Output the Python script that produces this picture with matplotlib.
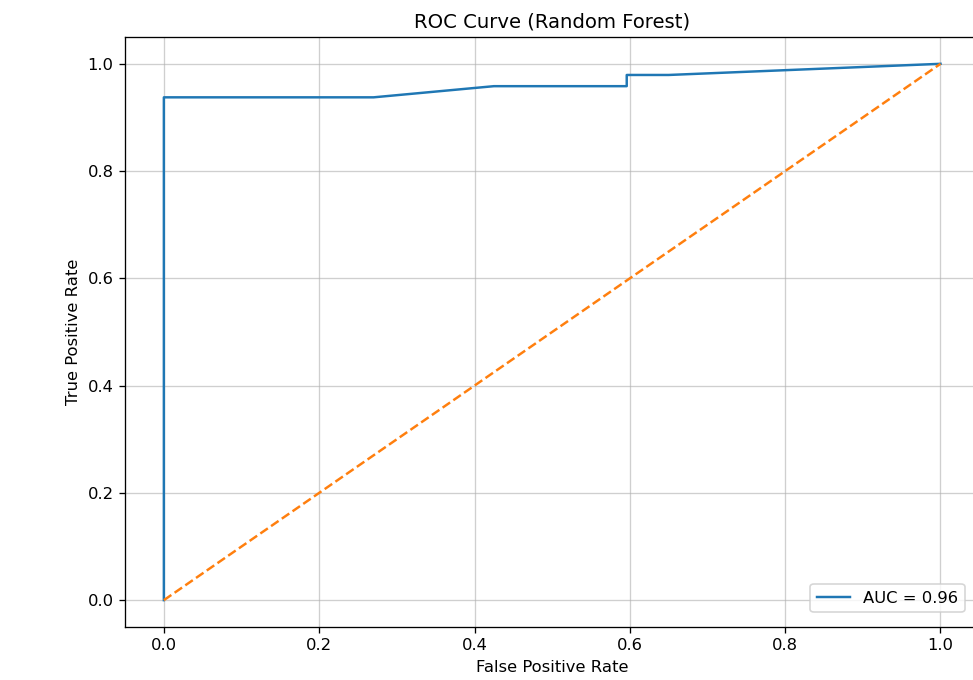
import matplotlib.pyplot as plt

fpr = [0.0, 0.0, 0.27, 0.425, 0.596, 0.596, 0.65, 1.0]
tpr = [0.0, 0.9375, 0.9375, 0.9583, 0.9583, 0.9792, 0.9792, 1.0]
auc_value = 0.96

# screenshot looks scaled up ~1.18x, so render at a higher dpi
dpi = 118
fig = plt.figure(figsize=(973 / dpi, 680 / dpi), dpi=dpi)
ax = fig.add_axes([0.1285, 0.078, 0.878, 0.8676])

ax.plot(fpr, tpr, label=f'AUC = {auc_value:.2f}')
ax.plot([0, 1], [0, 1], linestyle='--')

ax.set_xlim(-0.05, 1.05)
ax.set_ylim(-0.05, 1.05)
ax.set_xlabel('False Positive Rate')
ax.set_ylabel('True Positive Rate')
ax.set_title('ROC Curve (Random Forest)')
ax.legend(loc='lower right', borderaxespad=0.9)
ax.grid(True, alpha=0.6)

fig.savefig('out.png', dpi=dpi)
